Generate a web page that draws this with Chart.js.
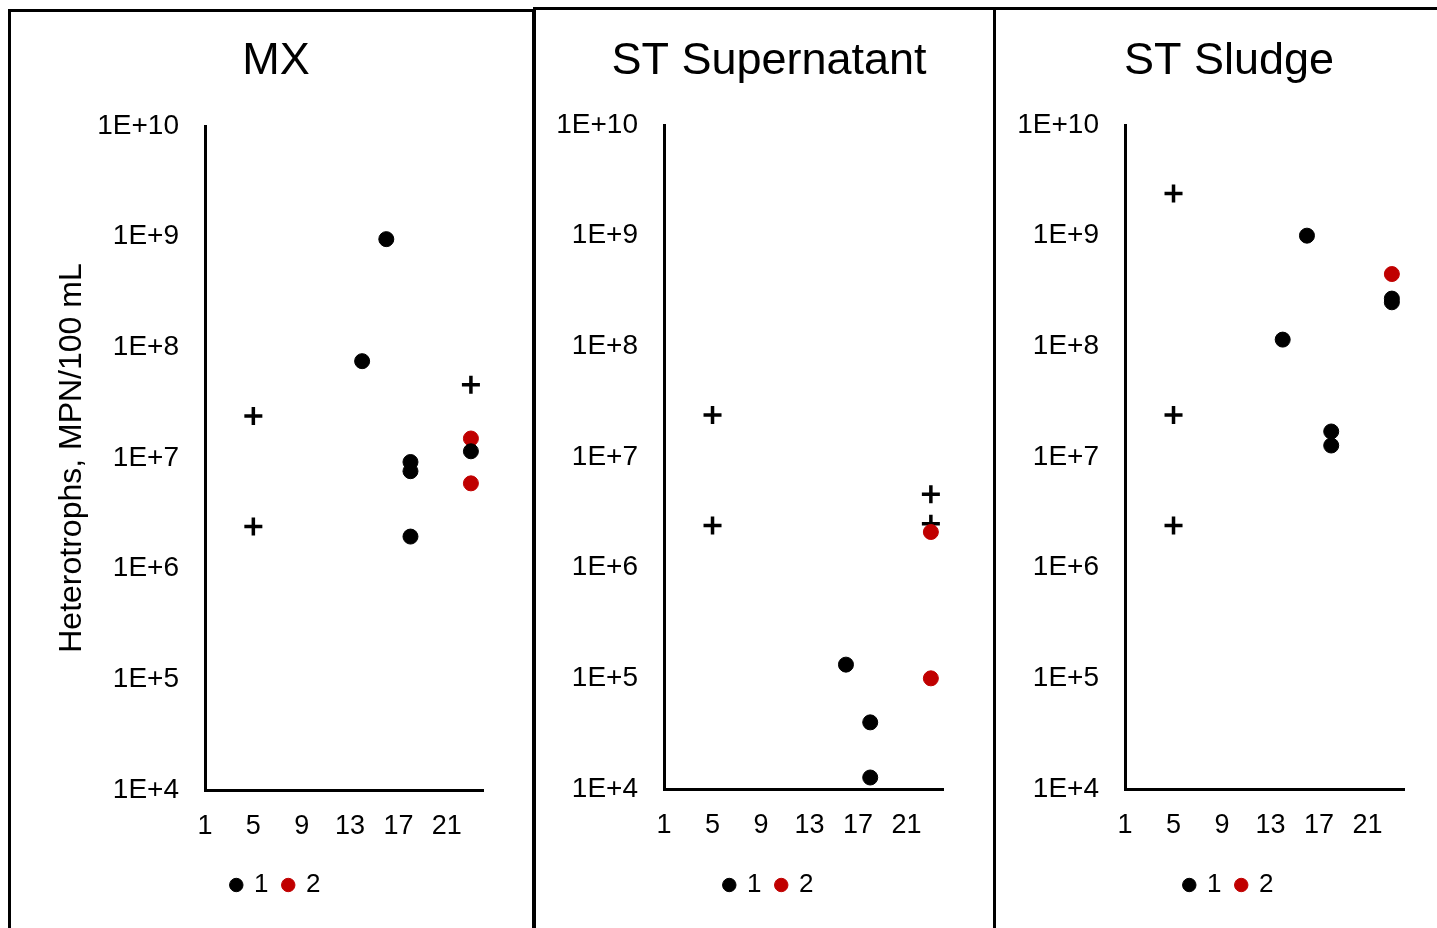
<!DOCTYPE html>
<html>
<head>
<meta charset="utf-8">
<script src="https://cdn.jsdelivr.net/npm/chart.js@4.4.1/dist/chart.umd.min.js"></script>
<style>
  html, body { margin: 0; padding: 0; background: #fff; overflow: hidden; }
  body { width: 1437px; height: 928px; position: relative; }
  .panel { position: absolute; border: 3px solid #000; box-sizing: border-box; }
  .chart-box { position: absolute; top: 0; height: 928px; }
</style>
</head>
<body>
<div class="panel" style="left:8px;top:9px;width:527px;height:940px"></div>
<div class="panel" style="left:533px;top:7px;width:463px;height:940px"></div>
<div class="panel" style="left:993px;top:7px;width:500px;height:940px"></div>
<div class="chart-box" style="left:0;width:534px"><canvas id="mx"></canvas></div>
<div class="chart-box" style="left:534px;width:461px"><canvas id="stSup"></canvas></div>
<div class="chart-box" style="left:995px;width:460px"><canvas id="stSludge"></canvas></div>
<script>
const xTicks = [1, 5, 9, 13, 17, 21];
const yTicks = [1e4, 1e5, 1e6, 1e7, 1e8, 1e9, 1e10];
const yTickLabels = ['1E+4', '1E+5', '1E+6', '1E+7', '1E+8', '1E+9', '1E+10'];
const seriesNames = ['1', '2'];
const yTitle = 'Heterotrophs, MPN/100 mL';

// [day, MPN/100 mL]
const mxRun1 = [[14, 7.5e7], [16, 9.5e8], [18, 9.2e6], [18, 7.6e6], [18, 1.95e6], [23, 1.15e7]];
const mxRun2 = [[23, 1.5e7], [23, 5.9e6]];
const mxLimits = [[5, 2.4e7], [5, 2.4e6], [23, 4.6e7]];

const supRun1 = [[16, 1.33e5], [18, 4.0e4], [18, 1.27e4]];
const supRun2 = [[23, 2.1e6], [23, 1.0e5]];
const supLimits = [[5, 2.4e7], [5, 2.4e6], [23, 4.6e6], [23, 2.5e6]];

const sludgeRun1 = [[14, 1.15e8], [16, 1.0e9], [18, 1.7e7], [18, 1.27e7], [23, 2.7e8], [23, 2.5e8]];
const sludgeRun2 = [[23, 4.5e8]];
const sludgeLimits = [[5, 2.4e9], [5, 2.4e7], [5, 2.4e6]];

Chart.defaults.font.family = '"Liberation Sans", Arial, sans-serif';
Chart.defaults.color = '#000';

function pts(arr) {
  return arr.map(p => ({ x: p[0], y: p[1] }));
}

function buildPanel(id, title, run1, run2, limits, box) {
  new Chart(document.getElementById(id), {
    type: 'scatter',
    data: {
      datasets: [{
        label: seriesNames[0],
        data: pts(run1),
        pointStyle: 'circle',
        pointRadius: 7.5,
        pointBorderWidth: 1,
        backgroundColor: '#000',
        borderColor: '#000'
      }, {
        label: seriesNames[1],
        data: pts(run2),
        pointStyle: 'circle',
        pointRadius: 7.5,
        pointBorderWidth: 1,
        backgroundColor: '#c00000',
        borderColor: '#c00000'
      }, {
        label: 'limit',
        data: pts(limits),
        pointStyle: 'cross',
        pointRadius: 9,
        pointBorderWidth: 3.5,
        backgroundColor: '#000',
        borderColor: '#000'
      }]
    },
    options: {
      responsive: true,
      maintainAspectRatio: false,
      animation: false,
      layout: {
        padding: { left: box.left, right: box.right, top: 0, bottom: 20 }
      },
      plugins: {
        title: {
          display: true,
          text: title,
          color: '#000',
          font: { size: 45, weight: 'normal' },
          padding: { top: 35, bottom: box.titleGap }
        },
        legend: {
          position: 'bottom',
          labels: {
            usePointStyle: true,
            boxWidth: 9.5,
            boxHeight: 9.5,
            padding: 15,
            color: '#000',
            font: { size: 26 },
            filter: item => item.datasetIndex < 2
          }
        },
        tooltip: { enabled: false }
      },
      scales: {
        x: {
          type: 'linear',
          min: 1,
          max: 24,
          grid: { display: false, drawTicks: false },
          border: { display: true, color: '#000', width: 3 },
          ticks: {
            color: '#000',
            font: { size: 27 },
            padding: 20,
            callback: (v, i) => String(xTicks[i])
          },
          afterBuildTicks: s => { s.ticks = xTicks.map(v => ({ value: v })); },
          afterFit: s => { s.height = box.xHeight; }
        },
        y: {
          type: 'logarithmic',
          min: 1e4,
          max: 1e10,
          grid: { display: false, drawTicks: false },
          border: { display: true, color: '#000', width: 3 },
          ticks: {
            color: '#000',
            font: { size: 28 },
            padding: 26,
            callback: (v, i) => yTickLabels[i]
          },
          afterBuildTicks: s => { s.ticks = yTicks.map(v => ({ value: v })); },
          afterFit: s => { s.width = box.yWidth; },
          title: {
            display: box.showTitle,
            text: yTitle,
            color: '#000',
            font: { size: 32 },
            padding: { top: 33, bottom: 0 }
          }
        },
        // empty strip on the right so title and legend centre like the original
        gap: {
          type: 'linear',
          position: 'right',
          grid: { display: false, drawTicks: false },
          border: { display: false },
          ticks: { display: false },
          afterFit: s => { s.width = box.gap; }
        }
      }
    }
  });
}

buildPanel('mx', 'MX', mxRun1, mxRun2, mxLimits,
  { left: 20, right: 2, yWidth: 185, gap: 49, xHeight: 67, titleGap: 37, showTitle: true });
buildPanel('stSup', 'ST Supernatant', supRun1, supRun2, supLimits,
  { left: 11, right: 2, yWidth: 119, gap: 50, xHeight: 68, titleGap: 36, showTitle: false });
buildPanel('stSludge', 'ST Sludge', sludgeRun1, sludgeRun2, sludgeLimits,
  { left: 10, right: 2, yWidth: 120, gap: 49, xHeight: 68, titleGap: 36, showTitle: false });
</script>
</body>
</html>
